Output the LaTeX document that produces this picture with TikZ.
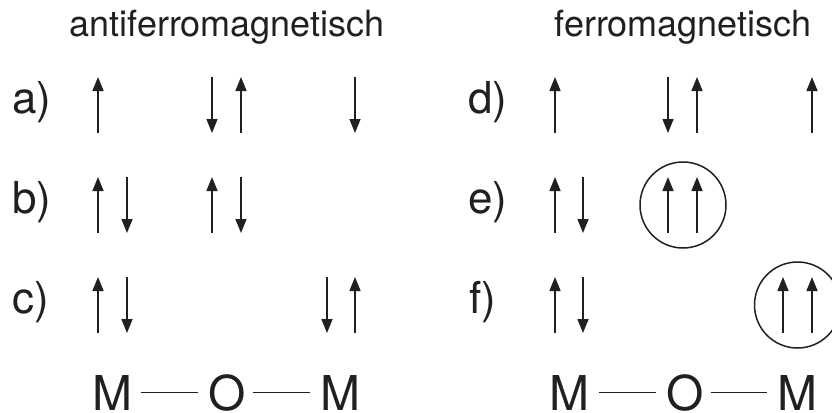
\documentclass[tikz,border=0pt]{standalone}
\usepackage{fontspec}
\setmainfont{TeX Gyre Heros}
\usetikzlibrary{arrows.meta}
\definecolor{ink}{RGB}{35,31,32}
\newcommand\upspin[2]{\draw[spin] (#1,#2+56) -- (#1,#2);}
\newcommand\downspin[2]{\draw[spin] (#1,#2) -- (#1,#2+56);}
\begin{document}
\begin{tikzpicture}[x=1pt,y=-1pt,
  spin/.style={line width=1.5pt, draw=ink, -{Triangle[length=14pt,width=11pt]}},
  title/.style={text=ink, inner sep=0pt, anchor=base, font=\fontsize{36}{40}\selectfont},
  lab/.style={text=ink, inner sep=0pt, anchor=base west, font=\fontsize{44}{48}\selectfont},
  atom/.style={text=ink, inner sep=0pt, anchor=base, font=\fontsize{48}{52}\selectfont},
  bond/.style={line width=1.5pt, draw=ink},
  ring/.style={draw=ink, line width=1.5pt, circle, minimum size=86pt, inner sep=0pt}]
\useasboundingbox (0,0) rectangle (832,412);
% titles
\node[title] (tA) at (227,37) {antiferromagnetisch};
\node[title] (tF) at (683,37) {ferromagnetisch};
% row labels
\node[lab] (la) at (12,113) {a)};
\node[lab] (lb) at (12,213) {b)};
\node[lab] (lc) at (12,313) {c)};
\node[lab] (ld) at (468,113) {d)};
\node[lab] (le) at (468,213) {e)};
\node[lab] (lf) at (469,313) {f)};
% antiferromagnetic spins
\upspin{98}{77} \downspin{212}{77} \upspin{241}{77} \downspin{355}{77}
\upspin{98}{177} \downspin{127}{177} \upspin{212}{177} \downspin{241}{177}
\upspin{98}{277} \downspin{127}{277} \downspin{327}{277} \upspin{355}{277}
% ferromagnetic spins
\upspin{555}{77} \downspin{668}{77} \upspin{697}{77} \upspin{812}{77}
\upspin{555}{177} \downspin{583}{177} \upspin{668}{177} \upspin{697}{177}
\upspin{555}{277} \downspin{583}{277} \upspin{783}{277} \upspin{812}{277}
% circles
\node[ring] (ce) at (683,205) {};
\node[ring] (cf) at (797.5,305) {};
% M-O-M left
\node[atom] (M1) at (112.5,410) {M};
\node[atom] (O1) at (227.5,410) {O};
\node[atom] (M2) at (340.5,410) {M};
\draw[bond] ([xshift=8.5pt]M1.east) -- ([xshift=-10.5pt]O1.west);
\draw[bond] ([xshift=6.5pt]O1.east) -- ([xshift=-10.5pt]M2.west);
% M-O-M right
\node[atom] (M3) at (569.5,410) {M};
\node[atom] (O2) at (685.5,410) {O};
\node[atom] (M4) at (797.5,410) {M};
\draw[bond] ([xshift=9.5pt]M3.east) -- ([xshift=-10.5pt]O2.west);
\draw[bond] ([xshift=6.5pt]O2.east) -- ([xshift=-10.5pt]M4.west);
\end{tikzpicture}
\end{document}
